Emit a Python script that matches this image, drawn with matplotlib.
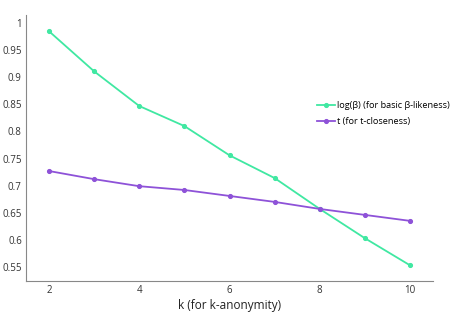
import matplotlib
matplotlib.use('Agg')
from matplotlib import pyplot as plt

k = [2, 3, 4, 5, 6, 7, 8, 9, 10]
beta_log = [0.985, 0.911, 0.847, 0.810, 0.756, 0.714, 0.657, 0.603, 0.553]
t_close = [0.727, 0.712, 0.699, 0.692, 0.681, 0.670, 0.657, 0.646, 0.635]

plt.rcParams['font.family'] = ['Open Sans', 'DejaVu Sans']

fig = plt.figure(figsize=(4.57, 3.17), dpi=100)
ax = fig.add_axes([26 / 457, 1 - 281 / 317, (433 - 26) / 457, (281 - 15) / 317])

ax.plot(k, beta_log, color='#40e8a2', lw=1.3, marker='o', ms=2.7,
        label='log(β) (for basic β-likeness)')
ax.plot(k, t_close, color='#8e52d8', lw=1.3, marker='o', ms=2.7,
        label='t (for t-closeness)')

ax.set_xlim(1.49, 10.51)
ax.set_ylim(0.524, 1.015)
ax.set_xticks([2, 4, 6, 8, 10])
ax.set_yticks([0.55, 0.6, 0.65, 0.7, 0.75, 0.8, 0.85, 0.9, 0.95, 1])
ax.set_yticklabels(['0.55', '0.6', '0.65', '0.7', '0.75', '0.8', '0.85', '0.9', '0.95', '1'])
ax.tick_params(length=0, labelsize=7, colors='#333333', pad=3)
ax.set_xlabel('k (for k-anonymity)', fontsize=8.5, color='#222222', labelpad=2)

for s in ['top', 'right']:
    ax.spines[s].set_visible(False)
for s in ['left', 'bottom']:
    ax.spines[s].set_color('#888888')

ax.legend(loc='upper left', bbox_to_anchor=(0.705, 0.69), frameon=False,
          fontsize=6.6, handlelength=2.0, handletextpad=0.25, labelspacing=0.75,
          borderaxespad=0)

fig.savefig('out.png', dpi=100)
